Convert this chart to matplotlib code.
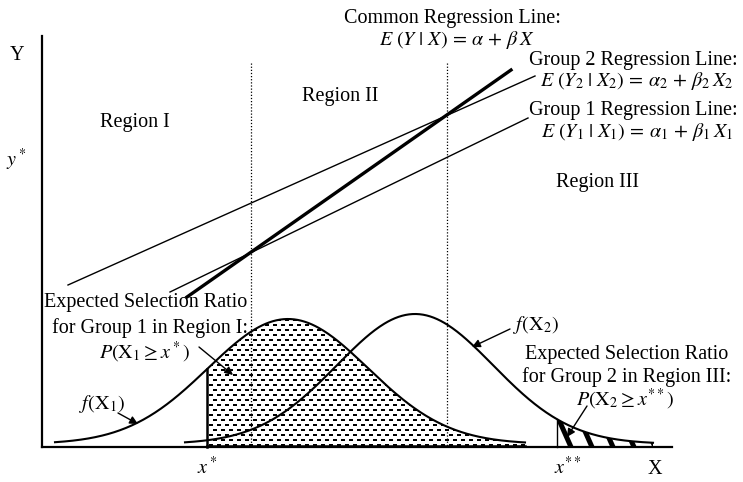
import numpy as np
import matplotlib
matplotlib.use("Agg")
import matplotlib.pyplot as plt
from matplotlib.patches import Polygon

plt.rcParams['font.family'] = ['Liberation Serif', 'DejaVu Serif']
plt.rcParams['mathtext.fontset'] = 'stix'

# diagram units (x to the right, y downward from the top of the canvas)
baseline = 447
x_left, x_right = 42, 672
y_top = 36
region_bounds = [251, 447]
x_star = 207
x_2star = 557

# two group score distributions
mu1, sd1, h1 = 288, 80, 125
mu2, sd2, h2 = 415, 78, 130
curve1_range = (55, 525)
curve2_range = (185, 653)

# regression lines (start, end)
common_line = [(187, 297), (511, 70)]
group2_line = [(68, 285), (535, 76)]
group1_line = [(170, 292), (528, 118)]


def density(x, mu, sd, h):
    return baseline - 3 - h * np.exp(-0.5 * ((x - mu) / sd) ** 2)


def tail_patch(x, y, x0):
    m = x >= x0
    xs = np.concatenate([[x0], x[m], [x[m][-1], x0]])
    ys = np.concatenate([[baseline], y[m], [baseline, baseline]])
    p = Polygon(np.column_stack([xs, ys]), closed=True, facecolor='none', edgecolor='none')
    ax.add_patch(p)
    return p, x[m][-1]


fig = plt.figure(figsize=(7.43, 4.82), dpi=100)
ax = fig.add_axes([0, 0, 1, 1])
ax.set_xlim(0, 743)
ax.set_ylim(482, 0)
ax.axis('off')

# axes
ax.plot([x_left, x_left], [y_top, baseline], color='k', lw=1.6)
ax.plot([x_left, x_right], [baseline, baseline], color='k', lw=1.6)

# region boundaries
for xb in region_bounds:
    ax.plot([xb, xb], [63, baseline], color='k', lw=0.9, ls=(0, (1, 1.5)))

x1 = np.linspace(*curve1_range, 400)
x2 = np.linspace(*curve2_range, 400)
y1 = density(x1, mu1, sd1, h1)
y2 = density(x2, mu2, sd2, h2)

# dash pattern under f(X1) right of x*
clip1, end1 = tail_patch(x1, y1, x_star)
gx, gy = [], []
for i, yy in enumerate(np.arange(baseline - 2.5, 300, -5.0)):
    off = 0 if i % 2 == 0 else 4
    for xx in np.arange(x_star + 4 + off, 530, 8.0):
        gx.append(xx)
        gy.append(yy)
dots, = ax.plot(gx, gy, ls='none', marker='_', ms=2.4, mew=1.3, color='k')
dots.set_clip_path(clip1)

# thick diagonal stripes under f(X2) right of x**
clip2, end2 = tail_patch(x2, y2, x_2star)
for xs0 in np.arange(x_2star - 2, end2 + 10, 21.0):
    st, = ax.plot([xs0, xs0 + 16], [baseline - 36, baseline], color='k', lw=3.6,
                  solid_capstyle='butt')
    st.set_clip_path(clip2)

# density curves
ax.plot(x1, y1, color='k', lw=1.5)
ax.plot(x2, y2, color='k', lw=1.5)
ax.plot([x_star, x_star], [baseline, density(x_star, mu1, sd1, h1)], color='k', lw=1.8)
ax.plot([x_2star, x_2star], [baseline, density(x_2star, mu2, sd2, h2)], color='k', lw=1.0)
ax.plot([x_star, end1], [baseline - 1, baseline - 1], color='k', lw=1.8)

# regression lines
for pts, lw in [(common_line, 2.4), (group2_line, 1.0), (group1_line, 1.0)]:
    ax.plot([pts[0][0], pts[1][0]], [pts[0][1], pts[1][1]], color='k', lw=lw)

fs = 14.5
fe = 14.5
ax.text(17, 55, 'Y', fontsize=fs, ha='center', va='center')
ax.text(16, 160, r'$y^*$', fontsize=fs, ha='center', va='center')
ax.text(207, 468, r'$x^*$', fontsize=fs, ha='center', va='center')
ax.text(568, 468, r'$x^{**}$', fontsize=fs, ha='center', va='center')
ax.text(655, 469, 'X', fontsize=fs, ha='center', va='center')

ax.text(135, 123, 'Region I', fontsize=fs, ha='center', va='center')
ax.text(340, 97, 'Region II', fontsize=fs, ha='center', va='center')
ax.text(597, 183, 'Region III', fontsize=fs, ha='center', va='center')

ax.text(452, 18, 'Common Regression Line:', fontsize=fs, ha='center', va='center')
ax.text(457, 40, r'$E\ (Y\ |\ X)\,=\,\alpha\,+\,\beta\,X$', fontsize=fe, ha='center', va='center')
ax.text(633, 60, 'Group 2 Regression Line:', fontsize=fs, ha='center', va='center')
ax.text(637, 81, r'$E\ (Y_2\ |\ X_2)\,=\,\alpha_2\,+\,\beta_2\,X_2$', fontsize=fe, ha='center', va='center')
ax.text(633, 110, 'Group 1 Regression Line:', fontsize=fs, ha='center', va='center')
ax.text(637, 132, r'$E\ (Y_1\ |\ X_1)\,=\,\alpha_1\,+\,\beta_1\,X_1$', fontsize=fe, ha='center', va='center')

ax.text(146, 303, 'Expected Selection Ratio', fontsize=fs, ha='center', va='center')
ax.text(150, 328, 'for Group 1 in Region I:', fontsize=fs, ha='center', va='center')
ax.text(145, 352, r'$P(\mathrm{X}_1 \geq x^*)$', fontsize=fs, ha='center', va='center')
ax.text(627, 355, 'Expected Selection Ratio', fontsize=fs, ha='center', va='center')
ax.text(627, 377, 'for Group 2 in Region III:', fontsize=fs, ha='center', va='center')
ax.text(625, 399, r'$P(\mathrm{X}_2 \geq x^{**})$', fontsize=fs, ha='center', va='center')

ax.text(102, 404, r'$f(\mathrm{X}_1)$', fontsize=fs, ha='center', va='center')
ax.text(536, 325, r'$f(\mathrm{X}_2)$', fontsize=fs, ha='center', va='center')

arrow = dict(arrowstyle='-|>', color='k', lw=1.0, mutation_scale=12, shrinkA=0, shrinkB=0)
ax.annotate('', xy=(233, 375), xytext=(199, 347), arrowprops=arrow)
ax.annotate('', xy=(138, 424), xytext=(118, 413), arrowprops=arrow)
ax.annotate('', xy=(472, 347), xytext=(510, 329), arrowprops=arrow)
ax.annotate('', xy=(567, 437), xytext=(587, 406), arrowprops=arrow)

fig.savefig('out.png', dpi=100)
